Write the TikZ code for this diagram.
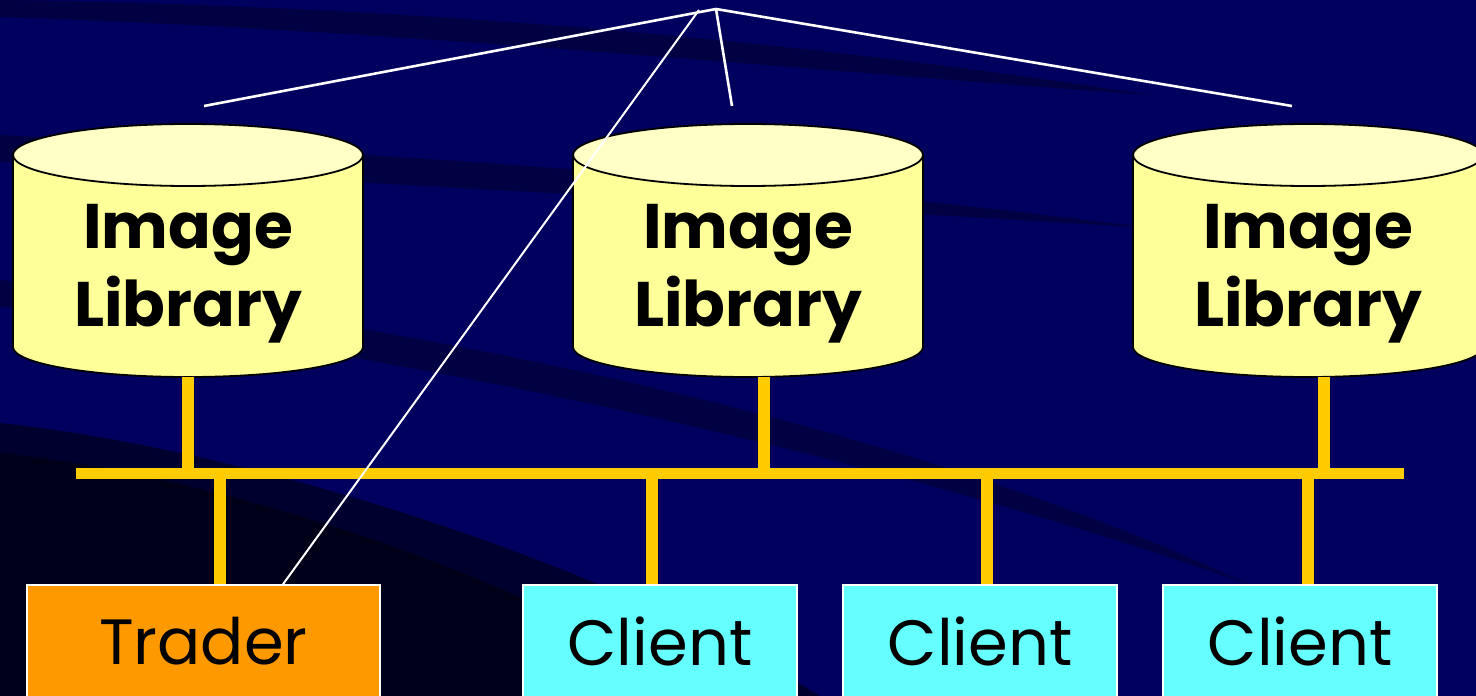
\documentclass[tikz,border=0pt]{standalone}
\usepackage{fontspec}
\setmainfont{Poppins}
\usetikzlibrary{calc}

\definecolor{navy}{HTML}{00005E}
\definecolor{navyband}{HTML}{000042}
\definecolor{navydark}{HTML}{00002E}
\definecolor{navydeep}{HTML}{000018}
\definecolor{libbody}{HTML}{FFFF99}
\definecolor{libtop}{HTML}{FFFFC6}
\definecolor{busyellow}{HTML}{FFCC00}
\definecolor{traderorange}{HTML}{FF9900}
\definecolor{clientcyan}{HTML}{66FFFF}

\begin{document}
\begin{tikzpicture}[x=1pt,y=-1pt,
    libtext/.style={font=\fontsize{63}{78}\selectfont\bfseries,align=center,inner sep=0pt},
    hostbox/.style={draw=white,line width=1.5pt,minimum height=113pt,
        font=\fontsize{64}{78}\selectfont,inner sep=0pt},
    bus/.style={draw=busyellow,line width=11.5pt},
    wire/.style={draw=white,line width=2.6pt}]
    \useasboundingbox (0,0) rectangle (1476,696);
    \clip (0,0) rectangle (1476,696);

    % background with the dark sweeping bands
    \fill[navy] (0,0) rectangle (1476,696);
    \fill[navyband] (0,0) .. controls (300,4) and (700,25) .. (1150,95)
        .. controls (800,70) and (400,30) .. (0,17) -- cycle;
    \fill[navyband] (0,135) .. controls (300,150) and (700,170) .. (1150,228)
        .. controls (700,200) and (300,180) .. (0,162) -- cycle;
    \fill[navyband] (0,280) .. controls (400,320) and (900,420) .. (1250,585)
        .. controls (900,460) and (400,350) .. (0,307) -- cycle;
    \fill[navydark] (0,423) .. controls (250,450) and (600,560) .. (820,696)
        -- (0,696) -- cycle;
    \fill[navydeep] (0,453) .. controls (250,480) and (550,590) .. (700,696)
        -- (0,696) -- cycle;

    % the three image libraries
    \foreach \cx/\n in {188/1,748/2,1308/3}
    {
        \filldraw[fill=libbody,line width=1.8pt] (\cx-175,155) -- (\cx-175,347)
            arc[start angle=180,end angle=0,x radius=175,y radius=30]
            -- (\cx+175,155) -- cycle;
        \filldraw[fill=libtop,line width=1.8pt] (\cx,155) ellipse [x radius=175,y radius=31];
        \node[libtext] (lib\n) at (\cx,274) {Image\\Library};
    };

    % the hosts
    \node[hostbox,fill=traderorange,minimum width=353pt] (trader) at (203.5,641.5) {Trader};
    \foreach \cx/\n in {660/1,980/2,1300/3}
        \node[hostbox,fill=clientcyan,minimum width=274pt] (client\n) at (\cx,641.5) {Client};

    % the network bus and its taps
    \coordinate (busL) at (76,473.5);
    \coordinate (busR) at (1404,473.5);
    \draw[bus] (busL) -- (busR);
    \foreach \x/\n in {188/1,764/2,1324/3}
    {
        \coordinate (foot\n) at (\x,377);
        \draw[bus] (foot\n) -- (foot\n |- busR);
    };
    \coordinate (tap0) at (220,473.5);
    \draw[bus] (tap0) -- (tap0 |- trader.north);
    \foreach \x/\n in {652/1,987/2,1308/3}
    {
        \coordinate (tap\n) at (\x,473.5);
        \draw[bus] (tap\n) -- (tap\n |- client\n.north);
    };

    % the white wires from the top
    \coordinate (apex) at (716,9);
    \coordinate (apexT) at (699,10);
    \coordinate (lw1) at (204,106);
    \coordinate (lw2) at (732,106);
    \coordinate (lw3) at (1292,106);
    \draw[wire] (lw1) -- (apex) -- (lw3);
    \draw[wire] (apex) -- (lw2);
    \draw[wire,line width=2pt] (apexT) -- ($(trader.north)+(79.5,0)$);
\end{tikzpicture}
\end{document}
